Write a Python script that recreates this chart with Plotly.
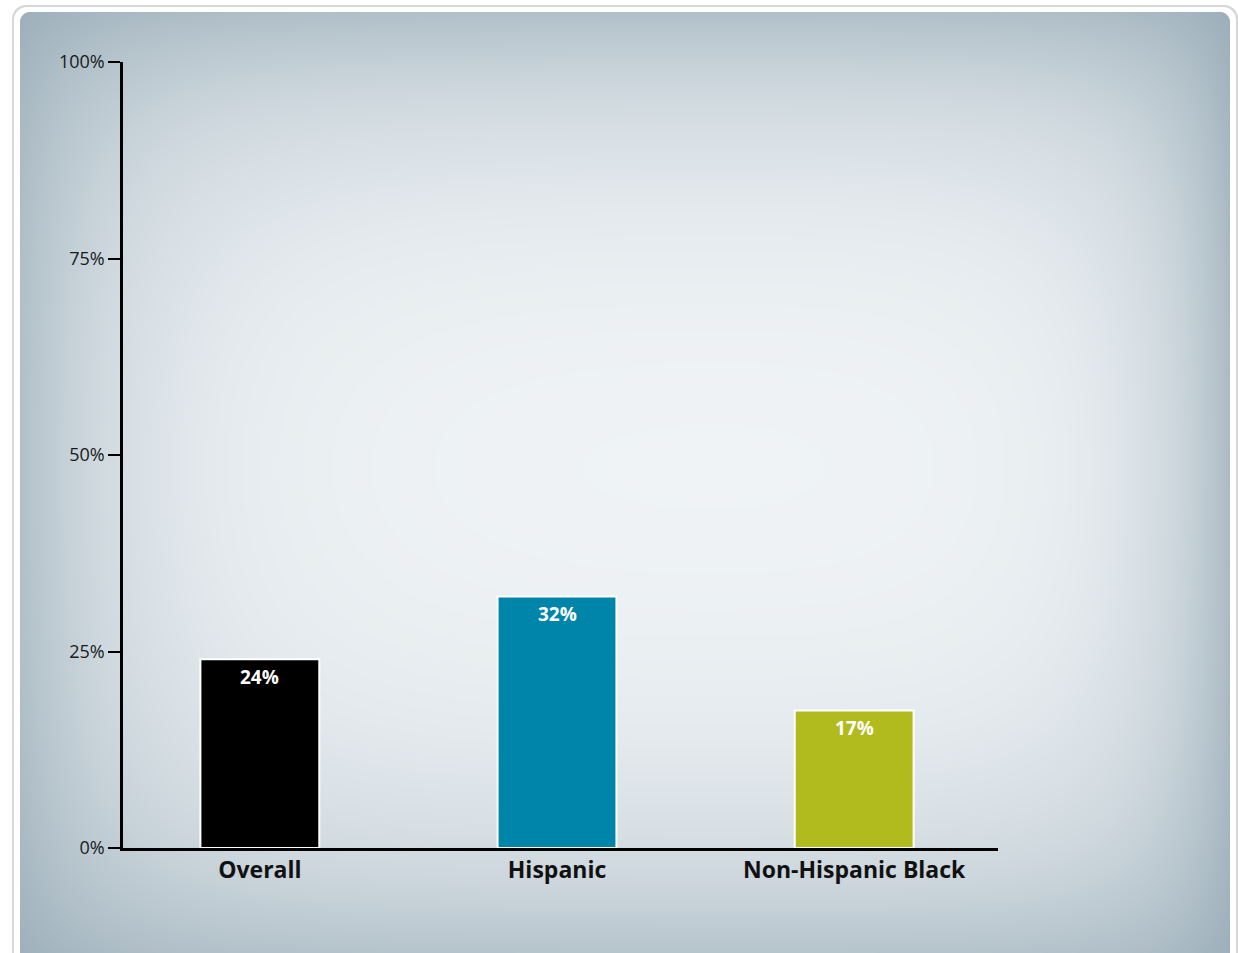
import base64, struct, zlib
import numpy as np
import plotly.graph_objects as go

# ---- data ----
categories = ["Overall", "Hispanic", "Non-Hispanic Black"]
values = [24, 32, 17.5]
value_labels = ["24%", "32%", "17%"]
bar_colors = ["#000000", "#0085aa", "#b2bb1e"]
y_tickvals = [0, 25, 50, 75, 100]
y_ticktext = ["0%", "25%", "50%", "75%", "100%"]

W, H = 1238, 953
L, R, T, B = 123, 240, 62, 105
PW, PH = W - L - R, H - T - B


# ---- background image (vignette panel with rounded white frame) ----
def rounded_alpha(x0, y0, x1, y1, r):
    yy, xx = np.mgrid[0:H, 0:W].astype(float)
    xx += 0.5
    yy += 0.5
    cx = np.clip(xx, x0 + r, x1 - r)
    cy = np.clip(yy, y0 + r, y1 - r)
    d = np.sqrt((xx - cx) ** 2 + (yy - cy) ** 2)
    return np.clip(r - d + 0.5, 0, 1)


def make_png(arr):
    h, w, _ = arr.shape
    raw = b"".join(b"\x00" + arr[i].tobytes() for i in range(h))

    def chunk(t, d):
        c = struct.pack(">I", len(d)) + t + d
        return c + struct.pack(">I", zlib.crc32(t + d) & 0xffffffff)

    return (b"\x89PNG\r\n\x1a\n" + chunk(b"IHDR", struct.pack(">IIBBBBB", w, h, 8, 2, 0, 0, 0))
            + chunk(b"IDAT", zlib.compress(raw, 9)) + chunk(b"IEND", b""))


yy, xx = np.mgrid[0:H, 0:W].astype(float)
center = np.array([245, 248, 250], float)
edge = np.array([148, 168, 180], float)
dl = np.clip(xx - 20, 0, None)
dr = np.clip(1230 - xx, 0, None)
dt = np.clip(yy - 12, 0, None)
db = np.clip(953 - yy, 0, None)
keep = ((1 - 0.68 * np.exp(-dl / 115.0)) * (1 - 0.75 * np.exp(-dr / 80.0))
        * (1 - 0.70 * np.exp(-dt / 140.0)) * (1 - 0.65 * np.exp(-db / 160.0)))
f = 1 - keep
panel = center[None, None, :] * (1 - f[..., None]) + edge[None, None, :] * f[..., None]

img = np.full((H, W, 3), 255.0)
a_shadow = rounded_alpha(12, 5, 1238, 975, 14)
grey = np.array([215, 215, 215], float)
img = img * (1 - a_shadow[..., None]) + grey * a_shadow[..., None]
a_white = rounded_alpha(14, 7, 1236, 975, 13)
img = img * (1 - a_white[..., None]) + 255.0 * a_white[..., None]
a_panel = rounded_alpha(20, 12, 1230, 975, 10)
img = img * (1 - a_panel[..., None]) + panel * a_panel[..., None]
img = np.clip(img, 0, 255).astype(np.uint8)
bg_uri = "data:image/png;base64," + base64.b64encode(make_png(img)).decode()

# ---- figure ----
x_pos = list(range(len(categories)))
fig = go.Figure()
fig.add_trace(go.Bar(
    x=x_pos, y=values, width=0.4,
    marker=dict(color=bar_colors, line=dict(color="white", width=2)),
    hoverinfo="skip",
))

for xi, v, t in zip(x_pos, values, value_labels):
    fig.add_annotation(x=xi, y=v, text=f"<b>{t}</b>", showarrow=False,
                       yanchor="middle", yshift=-18,
                       font=dict(family="Open Sans", size=19, color="white"))

fig.add_layout_image(dict(
    source=bg_uri, xref="paper", yref="paper",
    x=-L / PW, y=1 + T / PH, sizex=W / PW, sizey=H / PH,
    xanchor="left", yanchor="top", sizing="stretch", layer="below",
))

fig.update_layout(
    width=W, height=H,
    margin=dict(l=L, r=R, t=T, b=B),
    paper_bgcolor="white", plot_bgcolor="rgba(0,0,0,0)",
    showlegend=False,
    xaxis=dict(
        range=[-0.4605, 2.484], tickvals=x_pos,
        ticktext=[f"<b>{c}</b>" for c in categories],
        tickfont=dict(family="Open Sans", size=23, color="#111111"),
        showgrid=False, zeroline=False, showline=True, linecolor="#000000",
        linewidth=2.5, ticks="", fixedrange=True,
    ),
    yaxis=dict(
        range=[0, 100], tickvals=y_tickvals, ticktext=y_ticktext,
        tickfont=dict(family="Open Sans", size=18, color="#1a1a1a"),
        showgrid=False, zeroline=False, showline=True, linecolor="#000000",
        linewidth=2.5, ticks="outside", ticklen=12, tickwidth=2,
        tickcolor="#000000", fixedrange=True,
    ),
)

fig.write_html("out.html", config={"displayModeBar": False},
               post_script="document.body.style.margin='0';")
